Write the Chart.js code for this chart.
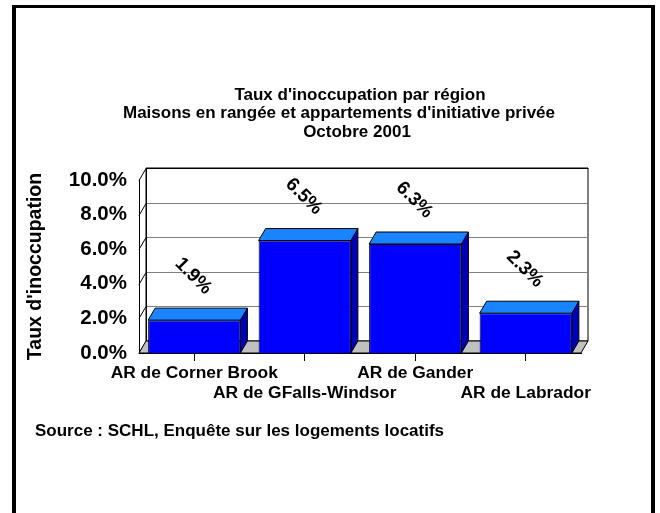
<!DOCTYPE html>
<html>
<head>
<meta charset="utf-8">
<script src="https://cdn.jsdelivr.net/npm/chart.js@4"></script>
<style>
    html, body { margin: 0; padding: 0; background: #fff; }
    #wrap { position: relative; width: 660px; height: 513px; overflow: hidden; }
    #frame { position: absolute; left: 12px; top: 5px; width: 635px; height: 530px;
             border: solid #000; border-width: 3px 4px 0 4px; }
    canvas { position: absolute; left: 0; top: 0; }
</style>
</head>
<body>
<div id="wrap">
    <div id="frame"></div>
    <canvas id="chart" width="660" height="513"></canvas>
</div>
<script>
const categories = ['AR de Corner Brook', 'AR de GFalls-Windsor', 'AR de Gander', 'AR de Labrador'];
const vacancyRates = [1.9, 6.5, 6.3, 2.3];
const yTicks = [0, 2, 4, 6, 8, 10];
const titleLines = [
    "Taux d'inoccupation par région",
    "Maisons en rangée et appartements d'initiative privée",
    'Octobre 2001'
];
const yTitle = "Taux d'inoccupation";
const sourceNote = 'Source : SCHL, Enquête sur les logements locatifs';

const FONT = "'Liberation Sans', Arial, sans-serif";
const DX = 7, DY = 12;   // depth of the 3D effect
const TITLE_X = [360, 339, 357];

Chart.defaults.font.family = FONT;
Chart.defaults.color = '#000';

function poly(ctx, pts, fill) {
    ctx.beginPath();
    ctx.moveTo(pts[0][0], pts[0][1]);
    pts.slice(1).forEach(p => ctx.lineTo(p[0], p[1]));
    ctx.closePath();
    if (fill) {
        ctx.fillStyle = fill;
        ctx.fill();
    }
    ctx.stroke();
}

// back wall, side wall and floor, drawn behind the bars
const wallsPlugin = {
    id: 'walls',
    beforeDatasetsDraw(chart) {
        const { ctx, chartArea: a, scales: { y } } = chart;
        ctx.save();
        ctx.lineWidth = 1;
        ctx.strokeStyle = '#000';
        poly(ctx, [[a.left + DX, a.top - DY], [a.right + DX, a.top - DY],
                   [a.right + DX, a.bottom - DY], [a.left + DX, a.bottom - DY]], '#fff');
        yTicks.forEach(v => {
            const py = Math.round(y.getPixelForValue(v)) + 0.5;
            ctx.strokeStyle = '#808080';
            ctx.beginPath();
            ctx.moveTo(a.left + DX, py - DY);
            ctx.lineTo(a.right + DX, py - DY);
            ctx.stroke();
            ctx.strokeStyle = '#000';
            ctx.beginPath();
            ctx.moveTo(a.left, py);
            ctx.lineTo(a.left + DX, py - DY);
            ctx.stroke();
        });
        ctx.strokeStyle = '#000';
        ctx.beginPath();
        ctx.moveTo(a.left + DX + 0.5, a.top - DY);
        ctx.lineTo(a.left + DX + 0.5, a.bottom - DY);
        ctx.moveTo(a.left + DX, a.top - DY + 0.5);
        ctx.lineTo(a.right + DX, a.top - DY + 0.5);
        ctx.stroke();
        poly(ctx, [[a.left, a.bottom], [a.left + DX, a.bottom - DY],
                   [a.right + DX, a.bottom - DY], [a.right, a.bottom]], '#c0c0c0');
        ctx.restore();
    },
    afterDatasetsDraw(chart) {
        const ctx = chart.ctx;
        const meta = chart.getDatasetMeta(0);
        ctx.save();
        ctx.lineWidth = 1;
        ctx.strokeStyle = '#000';
        meta.data.forEach((bar, i) => {
            const { x, y, base, width } = bar.getProps(['x', 'y', 'base', 'width'], true);
            const l = x - width / 2, r = x + width / 2;
            poly(ctx, [[r, y], [r + DX, y - DY], [r + DX, base - DY], [r, base]], '#0000b4');
            poly(ctx, [[l, y], [l + DX, y - DY], [r + DX, y - DY], [r, y]], '#1a84ff');

            ctx.save();
            ctx.translate(x - 1, y - 44);
            ctx.rotate(Math.PI / 4);
            ctx.font = 'bold 19px ' + FONT;
            ctx.fillStyle = '#000';
            ctx.textAlign = 'center';
            ctx.textBaseline = 'middle';
            ctx.fillText(vacancyRates[i].toFixed(1) + '%', 0, 0);
            ctx.restore();
        });
        ctx.restore();
    }
};

const textPlugin = {
    id: 'texts',
    afterDraw(chart) {
        const ctx = chart.ctx;
        ctx.save();
        ctx.fillStyle = '#000';
        ctx.textBaseline = 'middle';
        ctx.textAlign = 'center';
        ctx.font = 'bold 17px ' + FONT;
        titleLines.forEach((t, i) => ctx.fillText(t, TITLE_X[i], 95 + i * 18.5));
        ctx.textAlign = 'left';
        ctx.font = 'bold 17px ' + FONT;
        ctx.fillText(sourceNote, 35, 431);
        ctx.restore();
    }
};

new Chart(document.getElementById('chart'), {
    type: 'bar',
    data: {
        labels: categories,
        datasets: [{
            data: vacancyRates,
            backgroundColor: '#0000ff',
            borderColor: '#000',
            borderWidth: 1,
            barPercentage: 0.835,
            categoryPercentage: 1
        }]
    },
    options: {
        responsive: false,
        animation: false,
        devicePixelRatio: 1,
        layout: { padding: { top: 180, right: 79, left: 0, bottom: 0 } },
        plugins: { legend: { display: false }, tooltip: { enabled: false } },
        scales: {
            x: {
                afterFit: s => { s.height = 160; },
                grid: { display: true, drawOnChartArea: false, drawTicks: true, tickLength: 8,
                        color: '#000', offset: false },
                border: { color: '#000' },
                ticks: {
                    autoSkip: false, maxRotation: 0, minRotation: 0, padding: 2,
                    font: { size: 17.4, weight: 'bold', lineHeight: 1.15 },
                    callback: (v, i) => i % 2 ? ['', categories[i]] : categories[i]
                }
            },
            y: {
                min: 0, max: 10,
                afterFit: s => { s.width = 139; },
                afterBuildTicks: s => { s.ticks = yTicks.map(v => ({ value: v })); },
                grid: { display: false, drawTicks: false },
                border: { color: '#000' },
                ticks: {
                    padding: 12,
                    font: { size: 20.5, weight: 'bold' },
                    callback: v => v.toFixed(1) + '%'
                },
                title: {
                    display: true, text: yTitle, padding: { top: 24, bottom: 0 },
                    font: { size: 19.5, weight: 'bold' }
                }
            }
        }
    },
    plugins: [wallsPlugin, textPlugin]
});
</script>
</body>
</html>
